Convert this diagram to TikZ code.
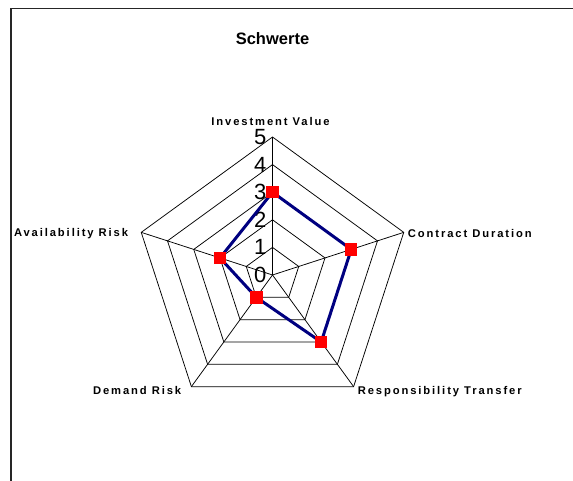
\documentclass[tikz,border=0pt]{standalone}
\usepackage{fontspec}
\setmainfont{Liberation Sans}
\newfontfamily\lblfont[LetterSpace=17]{Liberation Sans}
\begin{document}
\begin{tikzpicture}[x=1pt,y=1pt]
\tikzstyle{grid}=[black, line width=0.75pt];
\tikzstyle{axlbl}=[font=\lblfont\fontsize{11.2}{12}\selectfont\bfseries, inner sep=0pt];
\tikzstyle{num}=[font=\fontsize{22}{24}\selectfont, anchor=east, inner sep=0pt];
\tikzstyle{series}=[draw={rgb,255:red,0;green,0;blue,128}, line width=3pt, line join=round];
\tikzstyle{sq}=[rectangle, fill=red, minimum size=12.5pt, inner sep=0pt];
\useasboundingbox (-272.5,-206) rectangle (300.5,275);
% frame
\draw [line width=1.3pt, black!85] (-261.5,-206) -- (-261.5,266.5) -- (300.5,266.5);
\node [font=\fontsize{16.5}{18}\selectfont\bfseries] (title) at (0,236) {Schwerte};
% axes ends
\coordinate (c) at (0,0);
\coordinate (iv) at (90:138);
\coordinate (cd) at (18:138);
\coordinate (rt) at (-54:138);
\coordinate (dr) at (-126:138);
\coordinate (ar) at (162:138);
% rings
\draw [grid] (90:27.6) -- (18:27.6) -- (-54:27.6) -- (-126:27.6) -- (162:27.6) -- cycle;
\draw [grid] (90:55.2) -- (18:55.2) -- (-54:55.2) -- (-126:55.2) -- (162:55.2) -- cycle;
\draw [grid] (90:82.8) -- (18:82.8) -- (-54:82.8) -- (-126:82.8) -- (162:82.8) -- cycle;
\draw [grid] (90:110.4) -- (18:110.4) -- (-54:110.4) -- (-126:110.4) -- (162:110.4) -- cycle;
\draw [grid] (iv) -- (cd) -- (rt) -- (dr) -- (ar) -- cycle;
\draw [grid] (c) -- (iv);
\draw [grid] (c) -- (cd);
\draw [grid] (c) -- (rt);
\draw [grid] (c) -- (dr);
\draw [grid] (c) -- (ar);
% scale
\node [num] (n0) at (-6,0) {0};
\node [num] (n1) at (-6,27.6) {1};
\node [num] (n2) at (-6,55.2) {2};
\node [num] (n3) at (-6,82.8) {3};
\node [num] (n4) at (-6,110.4) {4};
\node [num] (n5) at (-6,138) {5};
% labels
\node [axlbl, anchor=south] (liv) at ([xshift=-2pt,yshift=11pt]iv) {Investment Value};
\node [axlbl, anchor=west] (lcd) at ([xshift=4pt,yshift=-1pt]cd) {Contract Duration};
\node [axlbl, anchor=north west] (lrt) at ([xshift=4pt,yshift=0pt]rt) {Responsibility Transfer};
\node [axlbl, anchor=north east] (ldr) at ([xshift=-10pt,yshift=0pt]dr) {Demand Risk};
\node [axlbl, anchor=east] (lar) at ([xshift=-13pt,yshift=-1pt]ar) {Availability Risk};
% values
\coordinate (d1) at (90:82.8);
\coordinate (d2) at (18:82.8);
\coordinate (d3) at (-54:82.8);
\coordinate (d4) at (-126:27.6);
\coordinate (d5) at (162:55.2);
\draw [series] (d1) -- (d2) -- (d3) -- (d4) -- (d5) -- cycle;
\node [sq] (m1) at (d1) {};
\node [sq] (m2) at (d2) {};
\node [sq] (m3) at (d3) {};
\node [sq] (m4) at (d4) {};
\node [sq] (m5) at (d5) {};
\end{tikzpicture}
\end{document}
